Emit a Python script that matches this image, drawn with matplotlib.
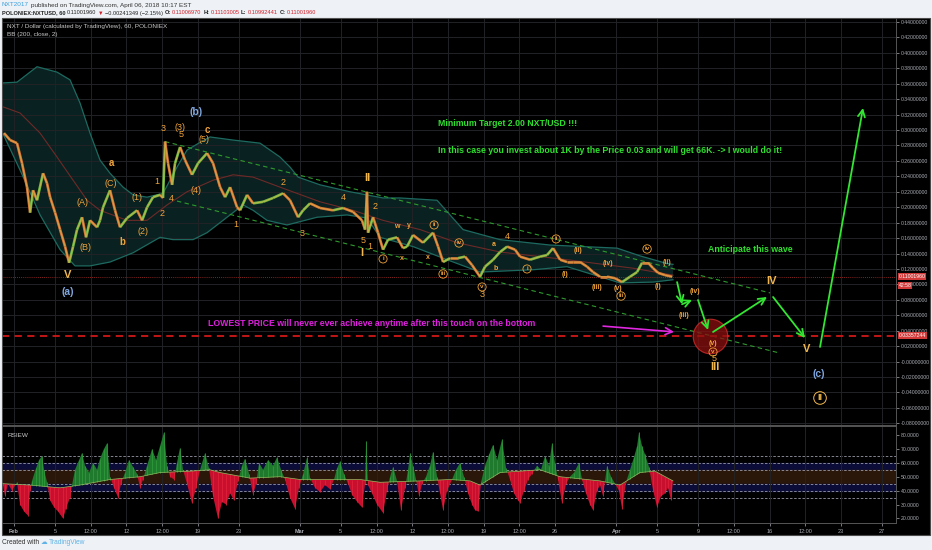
import numpy as np
import matplotlib
matplotlib.use("Agg")
import matplotlib.pyplot as plt
from matplotlib.patches import Rectangle, Polygon
from matplotlib.collections import LineCollection
import matplotlib.transforms as mtransforms

plt.rcParams['font.family'] = ['Liberation Sans', 'DejaVu Sans']

# ---- data (x = days since Feb 1 2018, y = NXT/USD) ----
price_t = [-0.98, -0.39, 0.29, 0.78, 1.27, 1.57, 1.86, 2.25, 2.84, 3.23, 3.53, 4.02, 4.51, 5.0, 5.39,
           5.78, 6.17, 6.66, 7.05, 7.44, 8.13, 8.42, 8.72, 9.4, 9.89, 10.38, 11.07, 12.05, 12.54, 13.03,
           13.61, 14.3, 14.59, 14.79, 15.08, 15.48, 15.77, 16.26, 16.75, 17.43, 18.02, 18.9, 19.49, 20.18,
           20.67, 21.16, 21.84, 22.14, 22.82, 23.41, 24.39, 25.37, 26.35, 27.03, 27.82, 28.31, 28.99, 29.97,
           31.24, 32.22, 33.2, 34.08, 34.38, 34.57, 34.67, 35.16, 35.65, 36.14, 36.63, 37.51, 38.1, 38.49,
           39.08, 40.06, 41.04, 41.53, 42.02, 42.7, 43.49, 44.17, 44.86, 45.64, 46.13, 46.92, 47.6, 48.29,
           49.07, 49.56, 50.54, 51.52, 52.2, 52.79, 53.48, 54.16, 54.75, 55.44, 56.12, 56.71, 57.39, 58.08,
           58.86, 59.55, 60.33, 61.02, 61.51, 62.1, 62.59, 63.08, 63.76, 64.45]
price = [0.296, 0.287, 0.283, 0.257, 0.226, 0.193, 0.222, 0.209, 0.244, 0.231, 0.213, 0.193, 0.171, 0.149, 0.128,
         0.149, 0.171, 0.187, 0.161, 0.183, 0.174, 0.183, 0.200, 0.222, 0.196, 0.174, 0.186, 0.196, 0.183, 0.200,
         0.213, 0.216, 0.212, 0.285, 0.257, 0.229, 0.257, 0.278, 0.261, 0.242, 0.257, 0.270, 0.257, 0.226,
         0.213, 0.226, 0.200, 0.196, 0.216, 0.205, 0.207, 0.212, 0.218, 0.209, 0.187, 0.196, 0.205, 0.199,
         0.196, 0.199, 0.194, 0.183, 0.171, 0.220, 0.167, 0.187, 0.167, 0.145, 0.158, 0.161, 0.147, 0.149,
         0.164, 0.154, 0.167, 0.149, 0.129, 0.134, 0.134, 0.136, 0.125, 0.110, 0.123, 0.132, 0.142, 0.149,
         0.145, 0.136, 0.132, 0.136, 0.138, 0.147, 0.132, 0.129, 0.129, 0.129, 0.123, 0.116, 0.110, 0.110,
         0.108, 0.103, 0.110, 0.116, 0.128, 0.128, 0.121, 0.115, 0.112, 0.110]

bb_mid_t = [-1.08, 0.59, 2.55, 4.21, 5.78, 7.15, 8.42, 11.07, 13.03, 14.99, 16.94, 19.49, 21.45, 23.41,
            26.05, 29.97, 33.2, 36.14, 39.77, 43.39, 47.6, 54.16, 60.63, 64.54]
bb_mid = [0.330, 0.322, 0.296, 0.265, 0.235, 0.209, 0.196, 0.183, 0.183, 0.203, 0.220, 0.235, 0.242, 0.239,
          0.226, 0.207, 0.196, 0.183, 0.171, 0.154, 0.142, 0.132, 0.121, 0.112]
bb_up_t = [-1.08, 0.29, 2.25, 4.21, 5.48, 6.46, 7.44, 8.42, 9.4, 10.68, 11.66, 13.03, 14.59, 15.96, 16.94,
           18.22, 19.2, 21.45, 24.09, 26.05, 27.03, 27.82, 29.97, 32.91, 36.14, 37.8, 41.43, 43.98, 47.6,
           52.5, 59.06, 61.31, 63.96, 64.54]
bb_up = [0.361, 0.362, 0.382, 0.375, 0.365, 0.335, 0.296, 0.261, 0.244, 0.226, 0.216, 0.213, 0.218, 0.252,
         0.274, 0.284, 0.291, 0.287, 0.283, 0.265, 0.252, 0.239, 0.229, 0.220, 0.212, 0.212, 0.209, 0.171,
         0.158, 0.151, 0.147, 0.137, 0.127, 0.126]
bb_lo_t = [-1.08, 0.59, 2.55, 4.51, 5.97, 7.44, 9.4, 11.66, 14.3, 15.57, 17.53, 18.9, 20.86, 22.43, 23.41,
           24.78, 26.74, 29.68, 32.62, 34.57, 35.85, 39.08, 42.41, 45.64, 50.83, 54.16, 59.35, 62.59, 64.54]
bb_lo = [0.295, 0.248, 0.190, 0.145, 0.124, 0.124, 0.129, 0.141, 0.161, 0.158, 0.158, 0.167, 0.187, 0.203,
         0.196, 0.183, 0.177, 0.187, 0.190, 0.186, 0.161, 0.149, 0.132, 0.116, 0.119, 0.123, 0.102, 0.103, 0.106]

rsi_t = [-1.08, -0.88, -0.59, -0.2, 0.29, 0.59, 0.98, 1.37, 1.57, 1.76, 2.15, 2.45, 2.74, 2.94, 3.23, 3.53,
         3.92, 4.31, 4.8, 5.09, 5.48, 5.68, 5.97, 6.37, 6.66, 6.95, 7.35, 7.74, 8.13, 8.42, 8.81, 9.11, 9.4,
         9.79, 10.19, 10.48, 10.87, 11.26, 11.66, 12.05, 12.34, 12.63, 13.03, 13.52, 13.91, 14.3, 14.69,
         14.99, 15.28, 15.67, 15.96, 16.26, 16.55, 16.94, 17.43, 17.83, 18.22, 18.71, 19.1, 19.49, 19.98,
         20.37, 20.76, 21.16, 21.55, 21.94, 22.33, 22.62, 23.02, 23.41, 23.7, 24.0, 24.39, 24.88, 25.37,
         25.76, 26.15, 26.54, 27.03, 27.52, 27.91, 28.31, 28.7, 28.99, 29.48, 29.97, 30.46, 30.95, 31.34,
         31.63, 31.93, 32.32, 32.71, 33.11, 33.6, 34.08, 34.38, 34.48, 34.67, 35.06, 35.55, 36.14, 36.53,
         36.83, 37.12, 37.51, 37.9, 38.3, 38.59, 38.79, 39.08, 39.37, 39.67, 39.96, 40.35, 40.74, 41.04,
         41.43, 41.72, 42.02, 42.41, 42.9, 43.29, 43.68, 44.07, 44.47, 44.86, 45.15, 45.45, 45.74, 46.13,
         46.52, 46.92, 47.31, 47.8, 48.19, 48.58, 48.97, 49.36, 49.56, 49.95, 50.34, 50.73, 51.22, 51.61,
         52.01, 52.4, 52.69, 52.98, 53.28, 53.67, 54.06, 54.45, 54.85, 55.34, 55.63, 56.02, 56.41, 56.71,
         57.1, 57.39, 57.69, 58.08, 58.47, 58.86, 59.25, 59.55, 59.94, 60.33, 60.72, 61.02, 61.21, 61.51,
         61.8, 62.19, 62.59, 62.98, 63.37, 63.76, 64.05, 64.35, 64.54]
rsi = [44, 36, 45, 40, 46, 30, 25, 22, 40, 47, 56, 62, 65, 55, 46, 33,
       28, 25, 20, 27, 35, 44, 55, 62, 67, 58, 53, 60, 55, 63, 70, 74, 50,
       42, 35, 45, 53, 62, 57, 52, 42, 48, 58, 70, 62, 72, 82,
       58, 50, 48, 60, 71, 55, 45, 31, 42, 55, 67, 56, 36, 20,
       32, 30, 38, 33, 47, 58, 63, 52, 37, 45, 60, 55, 62, 58,
       64, 55, 48, 35, 27, 42, 52, 64, 49, 42, 39, 44, 41, 48,
       56, 61, 52, 45, 37, 32, 28, 45, 76, 44, 38, 30, 24, 40,
       50, 57, 47, 26, 42, 55, 67, 58, 48, 36, 45, 50, 58, 68,
       50, 38, 26, 40, 48, 55, 60, 50, 38, 30, 26, 25, 46, 58,
       66, 73, 62, 77, 56, 48, 38, 33, 31, 40, 48, 52, 58, 55,
       65, 58, 74, 60, 48, 31, 45, 50, 53, 60, 48, 38, 30, 26,
       40, 44, 36, 58, 50, 45, 40, 27, 46, 55, 64, 72, 82, 72,
       66, 57, 40, 28, 36, 38, 42, 33, 47]
rsi_base_t = [-1.08, 1.57, 4.51, 6.46, 9.4, 12.34, 14.3, 17.24, 19.2, 20.18, 23.11, 26.05, 28.01, 30.95,
              33.89, 35.85, 39.77, 42.7, 44.66, 45.64, 47.6, 51.52, 53.48, 57.39, 59.35, 61.31, 62.78, 64.54]
rsi_base = [45, 44, 42, 44, 48, 50, 53, 54, 55, 53, 49, 50, 48, 48,
            48, 46, 47, 48, 47, 44, 53, 55, 50, 47, 44, 53, 54, 47]
rsi_levels = [65, 60, 55, 45, 40, 35]

# drawings
chan_up_t, chan_up = [14.79, 74.05], [0.285, 0.089]
chan_lo_t, chan_lo = [15.96, 75.02], [0.208, 0.011]
proj_t = [64.94, 65.43, 66.41, 66.99, 67.97, 68.46, 73.75, 74.34, 77.47, 78.94, 83.15]
proj_p = [0.103, 0.0743, 0.0799, 0.0798, 0.041, 0.0384, 0.0837, 0.0837, 0.0306, 0.019, 0.3286]
low_level = 0.03357244
last_price = 0.11001960

waves = [  # text, t, price, kind
    ("V", 5.29, 0.1122, "big"), ("(a)", 5.29, 0.0902, "blue"), ("(A)", 6.66, 0.2055, "n"),
    ("(B)", 6.95, 0.1472, "n"), ("(C)", 9.50, 0.2301, "n"), ("a", 9.50, 0.2573, "b"),
    ("b", 10.58, 0.1550, "b"), ("(1)", 12.05, 0.2120, "n"), ("(2)", 12.63, 0.1679, "n"),
    ("1", 14.01, 0.2327, "n"), ("2", 14.50, 0.1925, "n"), ("4", 15.38, 0.2107, "n"),
    ("3", 14.59, 0.3014, "n"), ("(3)", 16.26, 0.3039, "n"), ("5", 16.36, 0.2936, "n"),
    ("c", 18.95, 0.2995, "b"), ("(5)", 18.61, 0.2874, "n"), ("(4)", 17.83, 0.2211, "n"),
    ("(b)", 17.83, 0.3234, "blue"), ("1", 21.74, 0.1770, "n"), ("2", 26.35, 0.2314, "n"),
    ("3", 28.21, 0.1666, "n"), ("4", 32.22, 0.2120, "n"), ("II", 34.57, 0.2379, "big"),
    ("2", 35.36, 0.2003, "n"), ("5", 34.18, 0.1563, "n"), ("1", 34.87, 0.1485, "n"),
    ("I", 34.08, 0.1407, "big"), ("i", 36.14, 0.1330, "c"), ("w", 37.51, 0.1744, "s"),
    ("y", 38.69, 0.1757, "s"), ("x", 38.00, 0.1342, "s"), ("x", 40.55, 0.1355, "s"),
    ("ii", 41.14, 0.1770, "c"), ("iv", 43.58, 0.1537, "c"), ("iii", 42.02, 0.1135, "c"),
    ("a", 47.01, 0.1511, "s"), ("b", 47.21, 0.1200, "s"), ("4", 48.29, 0.1627, "n"),
    ("v", 45.84, 0.0967, "c"), ("3", 45.84, 0.0863, "n"), ("i", 50.24, 0.1200, "c"),
    ("ii", 53.09, 0.1589, "c"), ("(ii)", 55.24, 0.1433, "s"), ("(i)", 53.97, 0.1122, "s"),
    ("(iv)", 58.18, 0.1265, "s"), ("(iii)", 57.10, 0.0954, "s"), ("(v)", 59.16, 0.0941, "s"),
    ("iii", 59.45, 0.0850, "c"), ("iv", 62.0, 0.1459, "c"), ("(ii)", 63.96, 0.1278, "s"),
    ("(i)", 63.08, 0.0967, "s"), ("(iii)", 65.62, 0.0591, "s"), ("(iv)", 66.70, 0.0902, "s"),
    ("(v)", 68.46, 0.0229, "s"), ("v", 68.46, 0.0125, "c"), ("5", 68.56, 0.0040, "n"),
    ("III", 68.66, -0.0076, "big"), ("IV", 74.14, 0.1045, "big"), ("V", 77.67, 0.0164, "big"),
    ("(c)", 78.84, -0.0160, "blue"), ("II", 78.94, -0.0471, "cbig"),
]

xtick_t = [0, 4, 7.5, 11, 14.5, 18, 22, 28, 32, 35.5, 39, 42.5, 46, 49.5, 53, 59, 63, 67, 70.5, 74, 77.5, 81, 85]
xtick_lab = ["Feb", "5", "12:00", "12", "12:00", "19", "23", "Mar", "5", "12:00", "12", "12:00", "19",
             "12:00", "26", "Apr", "5", "9", "12:00", "16", "12:00", "23", "27"]

# ---- figure ----
W, H = 932, 550
fig = plt.figure(figsize=(W / 100, H / 100), dpi=100, facecolor='#eef1f5')
fig.patches.append(Rectangle((2 / W, 1 - 535 / H), 928 / W, 517 / H, transform=fig.transFigure,
                             fc='black', ec='#4a4a4a', lw=0.8, zorder=-10))

ax = fig.add_axes([2 / W, 1 - 425 / H, 894 / W, 407 / H], facecolor='black')
ax2 = fig.add_axes([2 / W, 1 - 523 / H, 894 / W, 97 / H], facecolor='black', sharex=ax)
ax.set_xlim(-1.18, 86.38)
ax.set_ylim(-0.0821, 0.4451)
ax2.set_ylim(16.7, 86.5)

grid_c = '#222326'
lab_c = '#a9acb3'
for a in (ax, ax2):
    for s in a.spines.values():
        s.set_color('#555555')
        s.set_linewidth(0.7)
    a.yaxis.tick_right()
    a.tick_params(axis='y', colors=lab_c, labelsize=3.7, length=2, width=0.5, pad=1.5)
    a.set_xticks(xtick_t)
    a.grid(axis='x', color=grid_c, lw=0.7)
ax.tick_params(axis='x', length=0, labelbottom=False)
ax2.set_xticklabels(xtick_lab)
ax2.tick_params(axis='x', colors=lab_c, labelsize=4.0, length=2, width=0.5, pad=2)
for lbl in ax2.get_xticklabels():
    if lbl.get_text() in ("Feb", "Mar", "Apr"):
        lbl.set_fontweight('bold')

yt = np.round(np.arange(-0.08, 0.4401, 0.02), 2)
ax.set_yticks(yt)
ax.set_yticklabels(["-0.00000000" if v == 0 else f"{v:.8f}" for v in yt])
ax.grid(axis='y', color=grid_c, lw=0.7)
ax2.set_yticks([20, 30, 40, 50, 60, 70, 80])
ax2.set_yticklabels([f"{v:.4f}" for v in [20, 30, 40, 50, 60, 70, 80]])

# ---- Bollinger band ----
poly = np.column_stack([bb_up_t + bb_lo_t[::-1], bb_up + bb_lo[::-1]])
ax.add_patch(Polygon(poly, closed=True, fc='#0b2524', ec='none', alpha=0.9, zorder=1))
ax.plot(bb_up_t, bb_up, color='#1d6a60', lw=0.9, zorder=2)
ax.plot(bb_lo_t, bb_lo, color='#1d6a60', lw=0.9, zorder=2)
ax.plot(bb_mid_t, bb_mid, color='#6e2a28', lw=0.8, zorder=2)

# ---- price (bars coloured by direction) ----
pt = np.array(price_t)
pp = np.array(price)
segs = np.stack([np.column_stack([pt[:-1], pp[:-1]]), np.column_stack([pt[1:], pp[1:]])], axis=1)
cols = ['#76b843' if b > a else '#d47a36' for a, b in zip(pp[:-1], pp[1:])]
ax.add_collection(LineCollection(segs, colors=cols, lw=1.9, zorder=3))
ax.plot(pt, pp, color='#e6b44e', lw=0.5, alpha=0.8, zorder=3)
ax.axhline(last_price, color='#b0302a', lw=0.6, ls=(0, (1, 1.5)), zorder=2)

# ---- drawings ----
ax.plot(chan_up_t, chan_up, color='#2f9a2f', lw=0.8, ls=(0, (4, 3)), zorder=2)
ax.plot(chan_lo_t, chan_lo, color='#2f9a2f', lw=0.8, ls=(0, (4, 3)), zorder=2)
ax.axhline(low_level, color='#d01818', lw=1.3, ls=(0, (4, 3)), zorder=2)
ax.scatter([68.17], [0.0332], s=620, fc='#8b1010', ec='#e03030', lw=0.8, alpha=0.75, zorder=3)

arrow_kw = dict(arrowstyle='->,head_length=0.5,head_width=0.25', color='#33e633', lw=1.3,
                shrinkA=0, shrinkB=0)
for i in [0, 1, 3, 5, 7, 9]:
    ax.annotate('', xy=(proj_t[i + 1], proj_p[i + 1]), xytext=(proj_t[i], proj_p[i]),
                arrowprops=arrow_kw, zorder=5)
ax.annotate('', xy=(64.64, 0.0385), xytext=(57.69, 0.046),
            arrowprops=dict(arrowstyle='->,head_length=0.5,head_width=0.25', color='#e028e0',
                            lw=1.2, shrinkA=0, shrinkB=0), zorder=5)

# ---- wave labels ----
orange = '#f0a43a'
for txt, t, p, kind in waves:
    kw = dict(ha='center', va='center', zorder=6)
    if kind == 'big':
        ax.text(t, p, txt, color='#f2b84e', fontsize=8, fontweight='bold', **kw)
    elif kind == 'blue':
        ax.text(t, p, txt, color='#80a8e0', fontsize=7.5, fontweight='bold', **kw)
    elif kind == 'b':
        ax.text(t, p, txt, color=orange, fontsize=7, fontweight='bold', **kw)
    elif kind == 'c':
        ax.text(t, p, txt, color=orange, fontsize=4.5, fontweight='bold',
                bbox=dict(boxstyle='circle,pad=0.25', fc='none', ec=orange, lw=0.6), **kw)
    elif kind == 'cbig':
        ax.text(t, p, txt, color='#f2b84e', fontsize=6.5, fontweight='bold',
                bbox=dict(boxstyle='circle,pad=0.2', fc='none', ec='#f2b84e', lw=0.7), **kw)
    elif kind == 's':
        ax.text(t, p, txt, color=orange, fontsize=5, fontweight='bold', **kw)
    else:
        ax.text(t, p, txt, color=orange, fontsize=6.5, **kw)

green_txt = '#2ee02e'
ax.text(41.53, 0.3078, "Minimum Target 2.00 NXT/USD !!!", color=green_txt, fontsize=6.3,
        fontweight='bold', va='center', zorder=6)
ax.text(41.53, 0.2741, "In this case you invest about 1K by the Price 0.03 and will get 66K. -> I would do it!",
        color=green_txt, fontsize=6.3, fontweight='bold', va='center', zorder=6)
ax.text(67.97, 0.1446, "Anticipate this wave", color=green_txt, fontsize=6.3, fontweight='bold',
        va='center', zorder=6)
ax.text(19.0, 0.0488, "LOWEST PRICE will never ever achieve anytime after this touch on the bottom",
        color='#e020e0', fontsize=6.3, fontweight='bold', va='center', zorder=6)

ax.text(0.006, 0.985, "NXT / Dollar (calculated by TradingView), 60, POLONIEX", transform=ax.transAxes,
        color='#c8c8c8', fontsize=4.6, va='top')
ax.text(0.006, 0.965, "BB (200, close, 2)", transform=ax.transAxes, color='#c8c8c8', fontsize=4.6, va='top')

# price axis value boxes
bt = mtransforms.blended_transform_factory(ax.transAxes, ax.transData)
for val, txt in [(last_price, "0.11001960"), (0.0985, "42:58"), (low_level, "0.03357244")]:
    ax.text(1.003, val, txt, transform=bt, color='white', fontsize=3.7, va='center', ha='left',
            bbox=dict(boxstyle='square,pad=0.15', fc='#d23a3a', ec='none'), clip_on=False, zorder=7)

# ---- RSI pane ----
for lo_, hi_, c in [(55, 60, '#0c0c38'), (45, 55, '#2a170a'), (40, 45, '#0c0c38')]:
    ax2.axhspan(lo_, hi_, color=c, zorder=0)
for lv in rsi_levels:
    ax2.axhline(lv, color='#9a9aa8', lw=0.6, ls=(0, (3, 2)), zorder=1)
rt = np.array(rsi_t)
rv = np.array(rsi, dtype=float)
rb = np.interp(rt, rsi_base_t, rsi_base)
ax2.fill_between(rt, rv, rb, where=rv >= rb, interpolate=True, color='#1f7a2e', lw=0, zorder=2)
ax2.fill_between(rt, rv, rb, where=rv < rb, interpolate=True, color='#c8102e', lw=0, zorder=2)
ax2.vlines(rt, rb, rv, colors=['#2f9a3a' if a >= b else '#e0203a' for a, b in zip(rv, rb)], lw=0.6, zorder=2)
ax2.plot(rsi_base_t, rsi_base, color='#8fbf60', lw=0.5, zorder=3)
ax2.text(0.006, 0.93, "RSIEW", transform=ax2.transAxes, color='#c8c8c8', fontsize=4.6, va='top')

# ---- header / footer ----
renderer = fig.canvas.get_renderer()


def text_run(x_px, y_px, pieces, size=4.4):
    # lay text pieces one after another on a line
    x = x_px
    for s, c, w in pieces:
        t = fig.text(x / W, 1 - y_px / H, s, color=c, fontsize=size, fontweight=w, va='center',
                     family=['Liberation Sans', 'DejaVu Sans'])
        x = t.get_window_extent(renderer).x1 + 1.5


dark, red = '#333333', '#d0202a'
text_run(2, 5, [("NXT2017", '#3aa0e0', 'normal'),
                ("published on TradingView.com, April 06, 2018 10:17 EST", dark, 'normal')], size=4.6)
text_run(2, 13, [("POLONIEX:NXTUSD, 60", '#222222', 'bold'), ("0.11001960", '#222222', 'normal'),
                 ("\u25BC", red, 'normal'), ("\u22120.00241349 (\u22122.15%)", '#222222', 'normal'),
                 ("O:", '#222222', 'bold'), ("0.11006970", red, 'normal'),
                 ("H:", '#222222', 'bold'), ("0.11103005", red, 'normal'),
                 ("L:", '#222222', 'bold'), ("0.10992441", red, 'normal'),
                 ("C:", '#222222', 'bold'), ("0.11001960", red, 'normal')], size=4.1)
text_run(2, 542, [("Created with", dark, 'normal'), ("\u2601", '#5fb3e6', 'normal'),
                  ("TradingView", '#5fb3e6', 'normal')], size=4.8)

fig.savefig("out.png", dpi=100, facecolor=fig.get_facecolor())
